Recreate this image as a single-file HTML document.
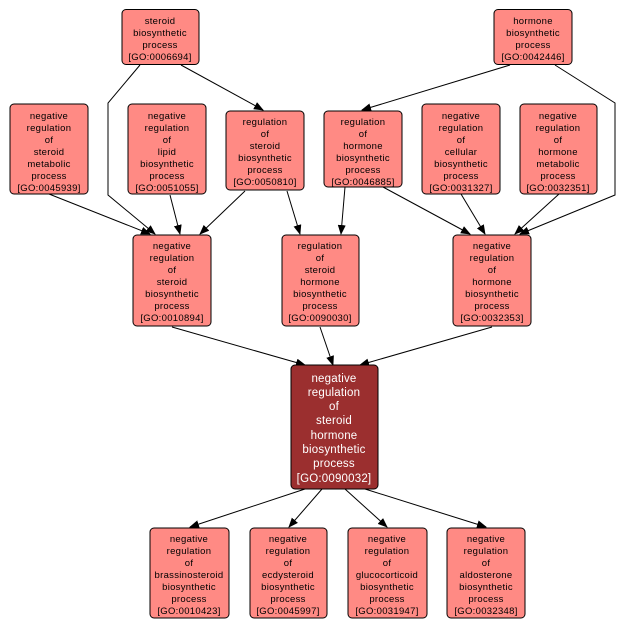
<!DOCTYPE html>
<html><head><meta charset="utf-8"><style>
html,body{margin:0;padding:0;background:#fff;}
svg{display:block;font-family:"Liberation Sans",sans-serif;}
.n{fill:#ff8a84;stroke:#000;stroke-width:1;}
.c{fill:#9b2f2f;stroke:#000;stroke-width:1;}
text{font-size:9.5px;text-anchor:middle;fill:#000;letter-spacing:0.3px;}
.w{fill:#fff;font-size:11.5px;letter-spacing:0.2px;}
.e{fill:none;stroke:#000;stroke-width:1;marker-end:url(#a);}
</style></head><body>
<svg width="628" height="629" viewBox="0 0 628 629">
<defs><marker id="a" markerWidth="10" markerHeight="8" refX="9" refY="4" orient="auto" markerUnits="userSpaceOnUse"><path d="M0,0 L10,4 L0,8 z" fill="#000"/></marker></defs>
<polyline class="e" points="140,65 108,103 108,195 155,234"/>
<line class="e" x1="181" y1="65" x2="263" y2="110"/>
<line class="e" x1="510" y1="65" x2="362" y2="110"/>
<polyline class="e" points="555,65 615,103 615,195 520,234"/>
<line class="e" x1="49" y1="194" x2="150" y2="234"/>
<line class="e" x1="170" y1="195" x2="180" y2="234"/>
<line class="e" x1="245" y1="191" x2="200" y2="234"/>
<line class="e" x1="287" y1="191" x2="300" y2="234"/>
<line class="e" x1="345" y1="187" x2="341" y2="234"/>
<line class="e" x1="383" y1="187" x2="470" y2="234"/>
<line class="e" x1="461" y1="194" x2="485" y2="234"/>
<line class="e" x1="559" y1="194" x2="515" y2="234"/>
<line class="e" x1="172" y1="327" x2="305" y2="365"/>
<line class="e" x1="320" y1="327" x2="333" y2="365"/>
<line class="e" x1="492" y1="327" x2="360" y2="365"/>
<line class="e" x1="305" y1="489" x2="190" y2="527"/>
<line class="e" x1="322" y1="489" x2="289" y2="527"/>
<line class="e" x1="345" y1="489" x2="387" y2="527"/>
<line class="e" x1="365" y1="489" x2="486" y2="527"/>

<rect class="n" x="122" y="9.5" width="77" height="55" rx="4"/>
<text x="160" y="24">steroid</text><text x="160" y="36">biosynthetic</text><text x="160" y="48">process</text><text x="160" y="60">[GO:0006694]</text>

<rect class="n" x="494" y="9.5" width="78" height="55" rx="4"/>
<text x="533" y="24">hormone</text><text x="533" y="36">biosynthetic</text><text x="533" y="48">process</text><text x="533" y="60">[GO:0042446]</text>

<rect class="n" x="10" y="104" width="78" height="90" rx="4"/>
<text x="49" y="119">negative</text><text x="49" y="131">regulation</text><text x="49" y="143">of</text><text x="49" y="155">steroid</text><text x="49" y="167">metabolic</text><text x="49" y="179">process</text><text x="49" y="191">[GO:0045939]</text>

<rect class="n" x="128" y="104" width="78" height="90" rx="4"/>
<text x="167" y="119">negative</text><text x="167" y="131">regulation</text><text x="167" y="143">of</text><text x="167" y="155">lipid</text><text x="167" y="167">biosynthetic</text><text x="167" y="179">process</text><text x="167" y="191">[GO:0051055]</text>

<rect class="n" x="226" y="111" width="78" height="79" rx="4"/>
<text x="265" y="125">regulation</text><text x="265" y="137">of</text><text x="265" y="149">steroid</text><text x="265" y="161">biosynthetic</text><text x="265" y="173">process</text><text x="265" y="185">[GO:0050810]</text>

<rect class="n" x="324" y="111" width="78" height="76" rx="4"/>
<text x="363" y="125">regulation</text><text x="363" y="137">of</text><text x="363" y="149">hormone</text><text x="363" y="161">biosynthetic</text><text x="363" y="173">process</text><text x="363" y="185">[GO:0046885]</text>

<rect class="n" x="422" y="104" width="78" height="90" rx="4"/>
<text x="461" y="119">negative</text><text x="461" y="131">regulation</text><text x="461" y="143">of</text><text x="461" y="155">cellular</text><text x="461" y="167">biosynthetic</text><text x="461" y="179">process</text><text x="461" y="191">[GO:0031327]</text>

<rect class="n" x="520" y="104" width="77" height="90" rx="4"/>
<text x="558" y="119">negative</text><text x="558" y="131">regulation</text><text x="558" y="143">of</text><text x="558" y="155">hormone</text><text x="558" y="167">metabolic</text><text x="558" y="179">process</text><text x="558" y="191">[GO:0032351]</text>

<rect class="n" x="133" y="235" width="78" height="91" rx="4"/>
<text x="172" y="249">negative</text><text x="172" y="261">regulation</text><text x="172" y="273">of</text><text x="172" y="285">steroid</text><text x="172" y="297">biosynthetic</text><text x="172" y="309">process</text><text x="172" y="321">[GO:0010894]</text>

<rect class="n" x="282" y="235" width="77" height="91" rx="4"/>
<text x="320" y="249">regulation</text><text x="320" y="261">of</text><text x="320" y="273">steroid</text><text x="320" y="285">hormone</text><text x="320" y="297">biosynthetic</text><text x="320" y="309">process</text><text x="320" y="321">[GO:0090030]</text>

<rect class="n" x="453" y="235" width="78" height="91" rx="4"/>
<text x="492" y="249">negative</text><text x="492" y="261">regulation</text><text x="492" y="273">of</text><text x="492" y="285">hormone</text><text x="492" y="297">biosynthetic</text><text x="492" y="309">process</text><text x="492" y="321">[GO:0032353]</text>

<rect class="c" x="291" y="365" width="87" height="124" rx="4"/>
<text class="w" x="334" y="382">negative</text><text class="w" x="334" y="396">regulation</text><text class="w" x="334" y="410">of</text><text class="w" x="334" y="424">steroid</text><text class="w" x="334" y="439">hormone</text><text class="w" x="334" y="453">biosynthetic</text><text class="w" x="334" y="467">process</text><text class="w" x="334" y="482">[GO:0090032]</text>

<rect class="n" x="150" y="528" width="79" height="90" rx="4"/>
<text x="189" y="542">negative</text><text x="189" y="554">regulation</text><text x="189" y="566">of</text><text x="189" y="578">brassinosteroid</text><text x="189" y="590">biosynthetic</text><text x="189" y="602">process</text><text x="189" y="614">[GO:0010423]</text>

<rect class="n" x="250" y="528" width="77" height="90" rx="4"/>
<text x="288" y="542">negative</text><text x="288" y="554">regulation</text><text x="288" y="566">of</text><text x="288" y="578">ecdysteroid</text><text x="288" y="590">biosynthetic</text><text x="288" y="602">process</text><text x="288" y="614">[GO:0045997]</text>

<rect class="n" x="348" y="528" width="79" height="90" rx="4"/>
<text x="387" y="542">negative</text><text x="387" y="554">regulation</text><text x="387" y="566">of</text><text x="387" y="578">glucocorticoid</text><text x="387" y="590">biosynthetic</text><text x="387" y="602">process</text><text x="387" y="614">[GO:0031947]</text>

<rect class="n" x="447" y="528" width="78" height="90" rx="4"/>
<text x="486" y="542">negative</text><text x="486" y="554">regulation</text><text x="486" y="566">of</text><text x="486" y="578">aldosterone</text><text x="486" y="590">biosynthetic</text><text x="486" y="602">process</text><text x="486" y="614">[GO:0032348]</text>
</svg>
</body></html>
